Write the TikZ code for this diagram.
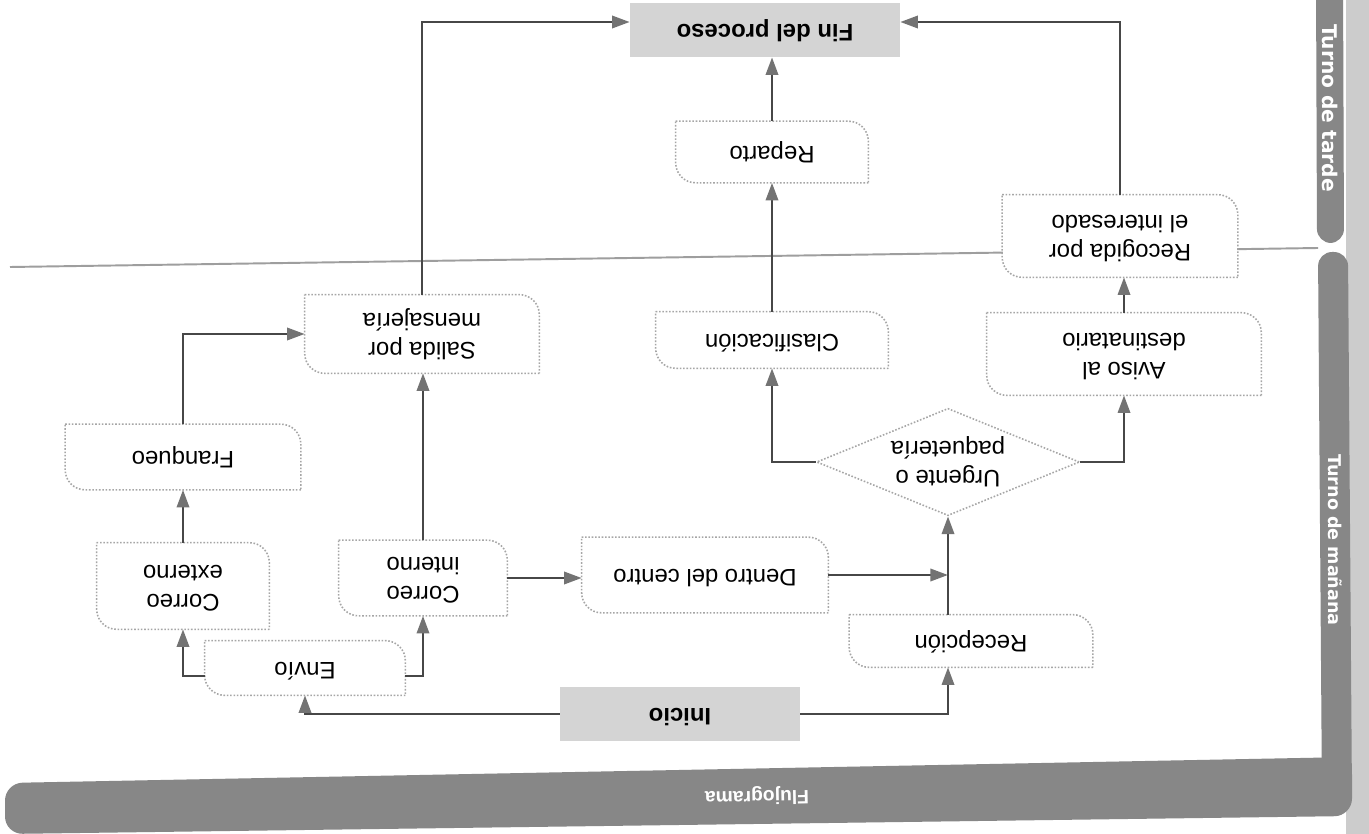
\documentclass[tikz,border=0pt]{standalone}
\usepackage{fontspec}
\setmainfont{Liberation Sans}
\newfontfamily\bandfont{DejaVu Sans}
\usepackage{graphicx}
\usetikzlibrary{arrows.meta,shapes.geometric}
\newcommand\flipt[1]{\rotatebox{180}{\begin{tabular}{@{}c@{}}#1\end{tabular}}}
\tikzset{
  boxline/.style={draw=black!35, densely dotted, line width=0.9pt},
  boxs/.style={fill=white, inner sep=0pt, font=\fontsize{13.6}{17}\selectfont},
  term/.style={fill=black!17, inner sep=0pt, font=\fontsize{13.6}{17}\selectfont\bfseries},
  sz/.style 2 args={minimum width=#1, minimum height=#2},
  dec/.style={diamond, draw=black!35, densely dotted, line width=0.9pt, fill=white, inner sep=0pt, aspect=2.4, minimum width=5.26cm, minimum height=2.14cm, font=\fontsize{13.6}{17}\selectfont},
  conn/.style={draw=black!72, line width=1.4pt, -{Triangle[length=10pt,width=7pt,color=black!55]}},
  bandc/.style={fill=black!47},
  bandtext/.style={text=white, font=\bandfont\bfseries\fontsize{10}{12}\selectfont},
  sepline/.style={draw=black!38, line width=1.1pt}
}
\newcommand\outl[1]{%
  \draw[boxline,rounded corners=0.4cm] (#1.north west) -- (#1.north east) -- (#1.south east);
  \draw[boxline,rounded corners=0.4cm] (#1.south east) -- (#1.south west) -- (#1.north west);}
\begin{document}
\begin{tikzpicture}[x=0.02cm,y=-0.02cm]
\useasboundingbox (0,0) rectangle (1369,834);
\fill[white] (0,0) rectangle (1369,834);
% paper edge
\fill[black!20] (1346,0) rectangle (1369,834);
% bands
\fill[bandc, rounded corners=10pt] (5,783) -- (1352,757) -- (1352,816) -- (5,834) -- cycle;
\fill[bandc, rounded corners=8pt] (1316,-20) -- (1343,-20) -- (1344,243) -- (1317,243) -- cycle;
\fill[bandc, rounded corners=8pt] (1318,252) -- (1348,252) -- (1352,800) -- (1322,800) -- cycle;
\node[bandtext, rotate=-90, font=\bandfont\bfseries\fontsize{11.5}{13}\selectfont] (tarde) at (1330,108) {Turno de tarde};
\node[bandtext, rotate=-90] (manana) at (1335,540) {Turno de mañana};
\node[text=white, font=\fontsize{11}{13}\selectfont\bfseries, rotate=181.1] (fluj) at (757,796) {Flujograma};
% separator
\coordinate (sepL) at (10,267);
\coordinate (sepR) at (1318,248);
\draw[sepline] (sepL) -- (sepR);
% nodes
\node[term, sz={5.4cm}{1.08cm}] (fin) at (765,30) {\flipt{Fin del proceso}};
\node[boxs, sz={3.84cm}{1.22cm}] (reparto) at (772,152) {\flipt{Reparto}};
\node[boxs, sz={4.7cm}{1.64cm}] (recogida) at (1120,236) {\flipt{Recogida por\\el interesado}};
\node[boxs, sz={5.48cm}{1.64cm}] (aviso) at (1124,354) {\flipt{Aviso al\\destinatario}};
\node[boxs, sz={4.64cm}{1.12cm}] (clasif) at (772,340) {\flipt{Clasificación}};
\node[boxs, sz={4.68cm}{1.56cm}] (salida) at (422,334) {\flipt{Salida por\\mensajería}};
\node[boxs, sz={4.7cm}{1.3cm}] (franqueo) at (183,457) {\flipt{Franqueo}};
\node[dec] (urg) at (948,462) {\flipt{Urgente o\\paquetería}};
\node[boxs, sz={3.44cm}{1.72cm}] (externo) at (183,586) {\flipt{Correo\\externo}};
\node[boxs, sz={3.36cm}{1.5cm}] (interno) at (423,578) {\flipt{Correo\\interno}};
\node[boxs, sz={4.92cm}{1.5cm}] (dentro) at (705,575) {\flipt{Dentro del centro}};
\node[boxs, sz={4.86cm}{1.04cm}] (recep) at (971,641) {\flipt{Recepción}};
\node[boxs, sz={4.0cm}{1.08cm}] (envio) at (305,668) {\flipt{Envío}};
\node[term, sz={4.8cm}{1.08cm}] (inicio) at (680,714) {\flipt{Inicio}};
\foreach \n in {reparto,recogida,aviso,clasif,salida,franqueo,externo,interno,dentro,recep,envio} {\outl{\n}}
% connectors
\draw[conn] (inicio.east) -| (urg.south |- recep.south);
\draw[conn] (inicio.west) -| (envio.south);
\draw[conn] ([yshift=-0.16cm]envio.west) -| (externo.south);
\draw[conn] ([yshift=-0.16cm]envio.east) -| (interno.south);
\draw[conn] (externo.north) -- (franqueo.south);
\draw[conn] (franqueo.north) |- (salida.west);
\draw[conn] (interno.north) -- (interno.north |- salida.south);
\draw[conn] (interno.east) -- (interno.east -| dentro.west);
\draw[conn] (dentro.east) -- (dentro.east -| urg.south);
\draw[conn] (recep.north -| urg.south) -- (urg.south);
\draw[conn] (urg.west) -| (clasif.south);
\draw[conn] (urg.east) -| (aviso.south);
\draw[conn] (aviso.north) -- (aviso.north |- recogida.south);
\draw[conn] (clasif.north) -- (reparto.south);
\draw[conn] (reparto.north) -- (reparto.north |- fin.south);
\draw[conn] (recogida.north) |- ([yshift=0.16cm]fin.east);
\draw[conn] (salida.north) |- ([yshift=0.16cm]fin.west);
\end{tikzpicture}
\end{document}
